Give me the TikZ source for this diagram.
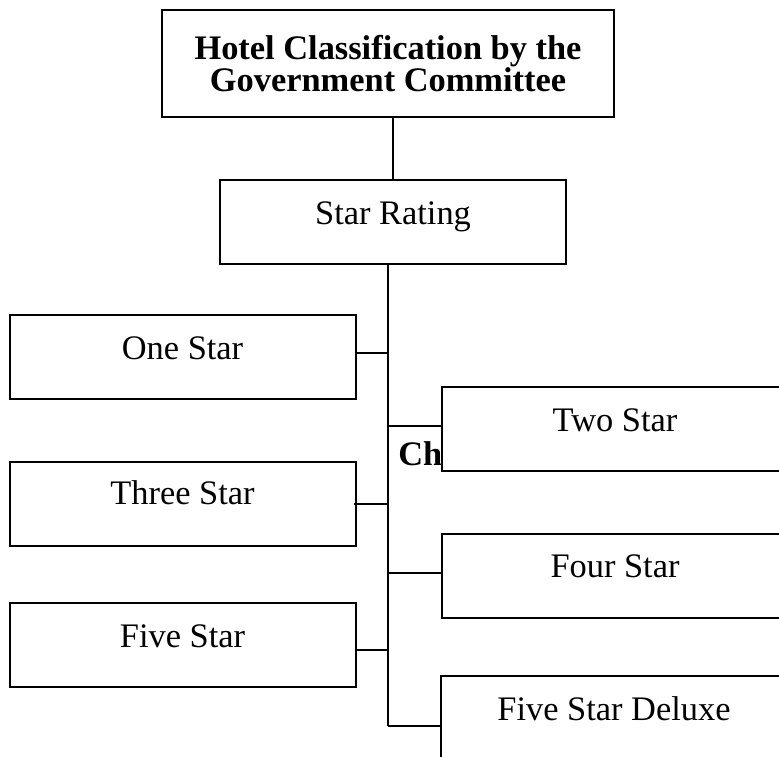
\documentclass[tikz,border=0pt]{standalone}
\usepackage{fontspec}
\setmainfont{Liberation Serif}
\newcommand\headfont{\fontsize{17.2}{16.2}\selectfont\bfseries\lineskiplimit=-20pt\relax}
\tikzset{
  rankbox/.style={draw, line width=1pt, fill=white, inner sep=0pt,
    minimum width=173pt, minimum height=42pt,
    text height=12pt, text depth=10pt,
    font=\fontsize{17.2}{20}\selectfont},
  link/.style={line width=1pt}
}
\begin{document}
\begin{tikzpicture}[x=0.5pt, y=-0.5pt]
% Page frame
\useasboundingbox (0,0) rectangle (779,756);
\clip (0,0) rectangle (779,756);

% Trunk of the tree
\coordinate (spine) at (388,264);
\coordinate (spineend) at (388,726);

% Partly hidden heading
\node[anchor=base west, inner sep=0pt, font=\fontsize{17.2}{20}\selectfont\bfseries] (cha) at (398,465) {Cha};

% Top boxes
\node[draw, line width=1.2pt, minimum width=226pt, minimum height=53.5pt, align=center,
  font=\headfont] (title) at (388,63.5)
  {Hotel Classification by the\\Government Committee};
\node[rankbox] (rating) at (393,222) {Star Rating};

% Left column
\node[rankbox] (one) at (182.5,357) {One Star};
\node[rankbox, text depth=12pt] (three) at (182.5,504) {Three Star};
\node[rankbox] (five) at (182.5,645) {Five Star};

% Right column
\node[rankbox] (two) at (615,429) {Two Star};
\node[rankbox] (four) at (615,575.5) {Four Star};
\node[rankbox] (deluxe) at (614,718) {Five Star Deluxe};

% Connectors
\draw[link] (rating.north) -- (rating.north |- title.south);
\draw[link] (spine) -- (spineend);
\draw[link] ([yshift=2pt]one.east) -- ([yshift=2pt]one.east -| spine);
\draw[link] ([xshift=-1.5pt]three.east) -- (three.east -| spine);
\draw[link] ([yshift=-2.5pt]five.east) -- ([yshift=-2.5pt]five.east -| spine);
\draw[link] ([yshift=1.5pt]two.west) -- ([yshift=1.5pt]two.west -| spine);
\draw[link] ([yshift=1.5pt]four.west) -- ([yshift=1.5pt]four.west -| spine);
\draw[link] (deluxe.west |- spineend) -- (spineend);
\end{tikzpicture}
\end{document}
